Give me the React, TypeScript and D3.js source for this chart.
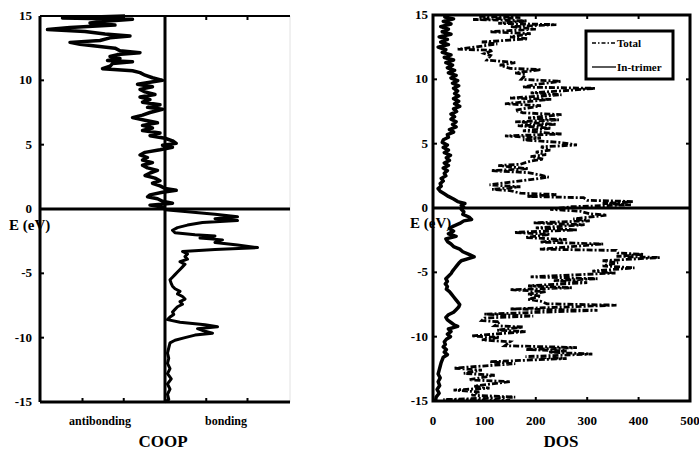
import React from 'react';
import * as d3 from 'd3';

// [E (eV), value] pairs
const COOP_UPPER: [number, number][] = [
  [15.0, -1.6], [14.85, -4.1], [14.75, -1.3], [14.6, -2.4], [14.45, -3.0], [14.3, -2.0],
  [14.1, -3.8], [13.95, -4.7], [13.8, -3.2], [13.6, -2.4], [13.45, -1.4], [13.3, -2.2],
  [13.1, -2.6], [12.95, -3.8], [12.8, -3.4], [12.65, -2.7], [12.5, -2.0], [12.3, -1.8],
  [12.15, -1.0], [12.0, -1.9], [11.85, -2.2], [11.7, -1.8], [11.55, -2.3], [11.45, -1.3],
  [11.3, -2.1], [11.1, -2.2], [10.9, -2.5], [10.75, -1.3], [10.6, -1.0], [10.4, -0.8],
  [10.2, -0.5], [10.0, -0.1], [9.85, -0.6], [9.7, -1.1], [9.5, -0.5], [9.3, -1.0],
  [9.1, -0.8], [8.9, -0.4], [8.7, -1.0], [8.5, -0.6], [8.3, -0.9], [8.1, -0.2],
  [7.9, -0.7], [7.75, -0.1], [7.5, -0.6], [7.3, -0.9], [7.1, -1.3], [6.9, -0.8],
  [6.7, -0.3], [6.5, -0.9], [6.3, -0.5], [6.1, -0.9], [5.9, -0.2], [5.7, -0.6],
  [5.5, 0.0], [5.3, 0.3], [5.1, 0.45], [4.95, -0.1], [4.8, 0.3], [4.6, -0.2],
  [4.4, -0.8], [4.2, -1.0], [4.0, -0.7], [3.8, -0.9], [3.6, -0.5], [3.4, -0.9],
  [3.2, -0.7], [3.0, -0.3], [2.8, -0.6], [2.6, -0.8], [2.4, -0.4], [2.2, -0.2],
  [2.0, -0.5], [1.8, -0.2], [1.6, 0.0], [1.45, 0.45], [1.3, -0.1], [1.1, -0.6],
  [0.95, -0.7], [0.8, -0.3], [0.6, -0.1], [0.45, 0.3], [0.3, -0.6], [0.15, -0.1], [0.0, 0.0],
];

const COOP_LOWER: [number, number][] = [
  [-0.05, 0.0], [-0.2, 0.8], [-0.4, 2.0], [-0.6, 2.9], [-0.75, 2.0], [-0.9, 2.9],
  [-1.05, 1.5], [-1.25, 0.9], [-1.45, 0.5], [-1.65, 0.3], [-1.85, 0.4], [-2.0, 1.2],
  [-2.1, 2.0], [-2.25, 1.4], [-2.4, 2.3], [-2.6, 2.0], [-2.8, 2.9], [-3.0, 3.7],
  [-3.15, 2.0], [-3.3, 0.7], [-3.5, 0.9], [-3.7, 0.8], [-3.9, 0.9], [-4.1, 0.6],
  [-4.3, 0.8], [-4.5, 0.7], [-4.7, 0.6], [-4.9, 0.5], [-5.1, 0.4], [-5.3, 0.3],
  [-5.5, 0.2], [-5.8, 0.25], [-6.0, 0.3], [-6.2, 0.4], [-6.4, 0.6], [-6.6, 0.5],
  [-6.8, 0.7], [-7.0, 0.8], [-7.2, 0.6], [-7.4, 0.7], [-7.6, 0.5], [-7.8, 0.4],
  [-8.0, 0.3], [-8.2, 0.35], [-8.4, 0.2], [-8.6, 0.1], [-8.8, 0.6], [-9.0, 1.6],
  [-9.15, 2.1], [-9.3, 1.3], [-9.5, 1.6], [-9.65, 1.9], [-9.8, 1.2], [-10.0, 0.8],
  [-10.2, 0.4], [-10.4, 0.2], [-10.8, 0.15], [-11.2, 0.1], [-11.6, 0.15], [-12.0, 0.1],
  [-12.4, 0.2], [-12.8, 0.1], [-13.2, 0.25], [-13.6, 0.1], [-14.0, 0.2], [-14.4, 0.1],
  [-14.8, 0.15], [-15.0, 0.0],
];

const TRIMER: [number, number][] = [
  [15, 25], [14.85, 23], [14.7, 40], [14.5, 20], [14.3, 35], [14.1, 15], [13.9, 30],
  [13.7, 18], [13.5, 35], [13.3, 12], [13.1, 28], [12.9, 15], [12.7, 30], [12.5, 10],
  [12.3, 25], [12.1, 18], [11.9, 35], [11.7, 22], [11.5, 40], [11.3, 25], [11.1, 38],
  [10.9, 28], [10.7, 42], [10.5, 30], [10.3, 45], [10.1, 35], [9.9, 48], [9.7, 38],
  [9.5, 50], [9.3, 40], [9.1, 48], [8.9, 42], [8.7, 50], [8.5, 40], [8.3, 50], [8.1, 42],
  [7.9, 52], [7.7, 40], [7.5, 46], [7.3, 35], [7.1, 42], [6.9, 35], [6.7, 45], [6.5, 38],
  [6.3, 45], [6.1, 32], [5.9, 40], [5.7, 28], [5.5, 30], [5.3, 20], [5.1, 18], [4.9, 28],
  [4.7, 20], [4.5, 30], [4.3, 22], [4.1, 34], [3.9, 26], [3.7, 32], [3.5, 22], [3.3, 30],
  [3.1, 20], [2.9, 28], [2.7, 22], [2.5, 25], [2.3, 16], [2.1, 20], [1.9, 14], [1.7, 16],
  [1.5, 10], [1.3, 14], [1.1, 22], [0.9, 30], [0.7, 40], [0.5, 48], [0.35, 62], [0.2, 55],
  [0.05, 60], [-0.1, 55], [-0.3, 60], [-0.5, 58], [-0.7, 70], [-0.9, 75], [-1.0, 60],
  [-1.2, 52], [-1.4, 40], [-1.6, 32], [-1.8, 40], [-2.0, 30], [-2.2, 45], [-2.4, 25],
  [-2.6, 28], [-2.8, 35], [-3.0, 40], [-3.2, 52], [-3.4, 58], [-3.6, 70], [-3.8, 80],
  [-3.9, 72], [-4.1, 55], [-4.3, 50], [-4.5, 46], [-4.7, 42], [-4.9, 38], [-5.1, 35],
  [-5.3, 30], [-5.5, 25], [-5.7, 28], [-5.9, 24], [-6.1, 28], [-6.3, 26], [-6.5, 32],
  [-6.7, 36], [-6.9, 40], [-7.1, 44], [-7.3, 48], [-7.5, 52], [-7.7, 50], [-7.9, 45],
  [-8.1, 40], [-8.3, 30], [-8.5, 25], [-8.7, 28], [-8.9, 35], [-9.1, 42], [-9.2, 48],
  [-9.4, 30], [-9.6, 35], [-9.8, 28], [-10.0, 34], [-10.2, 26], [-10.4, 22], [-10.6, 24],
  [-10.8, 20], [-11.0, 26], [-11.2, 22], [-11.4, 28], [-11.6, 20], [-11.8, 18], [-12.0, 16],
  [-12.3, 14], [-12.6, 12], [-12.9, 10], [-13.2, 14], [-13.5, 10], [-13.8, 13], [-14.1, 8],
  [-14.4, 12], [-14.7, 6], [-15, 5],
];

const TOTAL: [number, number][] = [
  [14.9, 90], [14.8, 170], [14.65, 78], [14.55, 182], [14.35, 127], [14.25, 240], [14.1, 150],
  [13.9, 200], [13.7, 110], [13.55, 190], [13.3, 150], [13.15, 185], [12.9, 95], [12.75, 125],
  [12.5, 80], [12.35, 48], [12.25, 116], [12.0, 100], [11.85, 112], [11.5, 105], [11.3, 160],
  [11.1, 130], [10.85, 150], [10.75, 210], [10.5, 160], [10.35, 180], [10.0, 172], [9.85, 248],
  [9.6, 200], [9.4, 175], [9.3, 315], [9.1, 250], [8.95, 190], [8.8, 250], [8.55, 150],
  [8.45, 230], [8.1, 140], [7.95, 210], [7.6, 160], [7.4, 175], [7.25, 250], [7.0, 185],
  [6.85, 245], [6.7, 160], [6.5, 240], [6.4, 165], [6.2, 230], [6.0, 175], [5.75, 250],
  [5.6, 140], [5.45, 210], [5.3, 175], [5.1, 245], [4.9, 280], [4.75, 210], [4.5, 228],
  [4.35, 200], [4.15, 220], [4.0, 190], [3.8, 215], [3.65, 190], [3.4, 170], [3.3, 127],
  [3.05, 185], [2.9, 113], [2.75, 185], [2.55, 210], [2.4, 225], [2.1, 170], [1.8, 110],
  [1.65, 170], [1.45, 115], [1.35, 150], [1.15, 170], [1.05, 240], [0.9, 182], [0.8, 293],
  [0.6, 300], [0.5, 390], [0.35, 330], [0.25, 385], [0.1, 270],
  [-0.1, 228], [-0.25, 286], [-0.45, 305], [-0.55, 338], [-0.85, 273], [-1.0, 305],
  [-1.15, 195], [-1.3, 295], [-1.55, 200], [-1.7, 280], [-1.9, 158], [-2.05, 227],
  [-2.3, 180], [-2.45, 260], [-2.65, 208], [-2.8, 331], [-3.2, 208], [-3.3, 357],
  [-3.5, 360], [-3.6, 409], [-3.75, 357], [-3.85, 441], [-4.1, 330], [-4.25, 360],
  [-4.5, 330], [-4.65, 392], [-4.9, 310], [-5.05, 355], [-5.35, 190], [-5.5, 320],
  [-5.65, 235], [-5.8, 300], [-6.05, 185], [-6.2, 270], [-6.35, 150], [-6.5, 220],
  [-6.7, 185], [-6.85, 210], [-7.1, 185], [-7.25, 210], [-7.45, 222], [-7.55, 357],
  [-7.85, 150], [-7.95, 320], [-8.25, 100], [-8.4, 195], [-8.55, 100], [-8.75, 95],
  [-8.85, 130], [-9.15, 120], [-9.25, 175], [-9.5, 125], [-9.6, 180], [-9.95, 75],
  [-10.05, 130], [-10.25, 95], [-10.4, 150], [-10.7, 140], [-10.85, 280], [-11.0, 180],
  [-11.1, 260], [-11.2, 225], [-11.35, 310], [-11.55, 180], [-11.7, 260], [-11.95, 110],
  [-12.1, 160], [-12.45, 40], [-12.6, 95], [-12.85, 60], [-13.0, 120], [-13.35, 70],
  [-13.5, 150], [-13.85, 80], [-14.0, 110], [-14.15, 40], [-14.3, 90], [-14.55, 75],
  [-14.7, 160], [-14.9, 20], [-14.95, 150],
];

const E_TICKS = [15, 10, 5, 0, -5, -10, -15];
const DOS_TICKS = [0, 100, 200, 300, 400, 500];
const COOP_TICKS = [-3.3, -1.65, 1.65, 3.3];
const LEGEND = ['Total', 'In-trimer'];

const FONT = '"Liberation Serif", "DejaVu Serif", serif';

export default function App() {
  const yL = d3.scaleLinear().domain([-15, 15]).range([402, 16]);
  const xC = d3.scaleLinear().domain([-5, 5]).range([40, 290]);
  const yR = d3.scaleLinear().domain([-15, 15]).range([401, 15]);
  const xD = d3.scaleLinear().domain([0, 500]).range([433, 690]);

  const coopLine = d3.line<[number, number]>().x(d => xC(d[1])).y(d => yL(d[0]));
  const dosLine = d3.line<[number, number]>().x(d => xD(d[1])).y(d => yR(d[0]));

  const txt = { fontFamily: FONT, fontWeight: 700 as const };

  return (
    <svg width={699} height={453} style={{ position: 'absolute', left: 0, top: 0, background: '#fff' }}>
      {/* ---------- COOP panel ---------- */}
      <path d={coopLine(COOP_UPPER) || ''} fill="none" stroke="#000" strokeWidth={3.5} strokeLinejoin="round" />
      <path d={coopLine(COOP_LOWER) || ''} fill="none" stroke="#000" strokeWidth={3} strokeLinejoin="round" />
      <line x1={xC(-5)} x2={xC(-5)} y1={yL(15)} y2={yL(-15)} stroke="#000" strokeWidth={3} />
      <line x1={xC(5)} x2={xC(5)} y1={yL(15)} y2={yL(-15)} stroke="#e2e2e2" strokeWidth={1} />
      <line x1={xC(-5)} x2={xC(5)} y1={yL(15)} y2={yL(15)} stroke="#000" strokeWidth={2} />
      <line x1={xC(-5)} x2={xC(5)} y1={yL(-15)} y2={yL(-15)} stroke="#000" strokeWidth={3} />
      <line x1={xC(0)} x2={xC(0)} y1={yL(15)} y2={yL(-15)} stroke="#000" strokeWidth={3} />
      <line x1={xC(-5)} x2={xC(5)} y1={yL(0)} y2={yL(0)} stroke="#000" strokeWidth={3} />
      {E_TICKS.map(t => (
        <g key={'l' + t}>
          <line x1={xC(-5)} x2={xC(-5) + 4} y1={yL(t)} y2={yL(t)} stroke="#000" strokeWidth={2} />
          <text x={32} y={yL(t) + 4} textAnchor="end" fontSize={13} {...txt}>{t}</text>
        </g>
      ))}
      {COOP_TICKS.map(t => (
        <g key={'c' + t}>
          <line x1={xC(t)} x2={xC(t)} y1={yL(-15)} y2={yL(-15) - 4} stroke="#000" strokeWidth={2} />
          <line x1={xC(t)} x2={xC(t)} y1={yL(15)} y2={yL(15) + 4} stroke="#000" strokeWidth={2} />
        </g>
      ))}
      <text x={100} y={425} textAnchor="middle" fontSize={12} {...txt}>antibonding</text>
      <text x={226} y={425} textAnchor="middle" fontSize={12} {...txt}>bonding</text>
      <text x={163} y={447} textAnchor="middle" fontSize={17} {...txt}>COOP</text>
      <text x={9} y={230} fontSize={15} {...txt}>E (eV)</text>

      {/* ---------- DOS panel ---------- */}
      <path d={dosLine(TOTAL) || ''} fill="none" stroke="#000" strokeWidth={2.8} strokeDasharray="6,2,2,2" />
      <path d={dosLine(TRIMER) || ''} fill="none" stroke="#000" strokeWidth={3.5} strokeLinejoin="round" />
      <rect x={xD(0)} y={yR(15)} width={xD(500) - xD(0)} height={yR(-15) - yR(15)} fill="none" stroke="#000" strokeWidth={3} />
      <line x1={xD(0)} x2={xD(500)} y1={yR(0)} y2={yR(0)} stroke="#000" strokeWidth={3} />
      {E_TICKS.map(t => (
        <g key={'r' + t}>
          <line x1={xD(0)} x2={xD(0) + 4} y1={yR(t)} y2={yR(t)} stroke="#000" strokeWidth={2} />
          <line x1={xD(500)} x2={xD(500) - 4} y1={yR(t)} y2={yR(t)} stroke="#000" strokeWidth={2} />
          <text x={428} y={yR(t) + 4} textAnchor="end" fontSize={13} {...txt}>{t}</text>
        </g>
      ))}
      {DOS_TICKS.map(t => (
        <g key={'d' + t}>
          <line x1={xD(t)} x2={xD(t)} y1={yR(-15)} y2={yR(-15) - 4} stroke="#000" strokeWidth={2} />
          <line x1={xD(t)} x2={xD(t)} y1={yR(15)} y2={yR(15) + 4} stroke="#000" strokeWidth={2} />
          <text x={xD(t)} y={425} textAnchor="middle" fontSize={13} {...txt}>{t}</text>
        </g>
      ))}
      <text x={561} y={447} textAnchor="middle" fontSize={17} {...txt}>DOS</text>
      <text x={410} y={228} fontSize={15} {...txt}>E (eV)</text>

      {/* legend */}
      <rect x={586} y={31} width={87} height={48} fill="#fff" stroke="#000" strokeWidth={3} />
      {LEGEND.map((name, i) => (
        <g key={name}>
          <line x1={592} x2={616} y1={43 + i * 24} y2={43 + i * 24} stroke="#000"
            strokeWidth={1.3} strokeDasharray={i === 0 ? '4,2,1.5,2' : undefined} />
          <text x={617} y={47 + i * 24} fontSize={11} {...txt}>{name}</text>
        </g>
      ))}
    </svg>
  );
}
